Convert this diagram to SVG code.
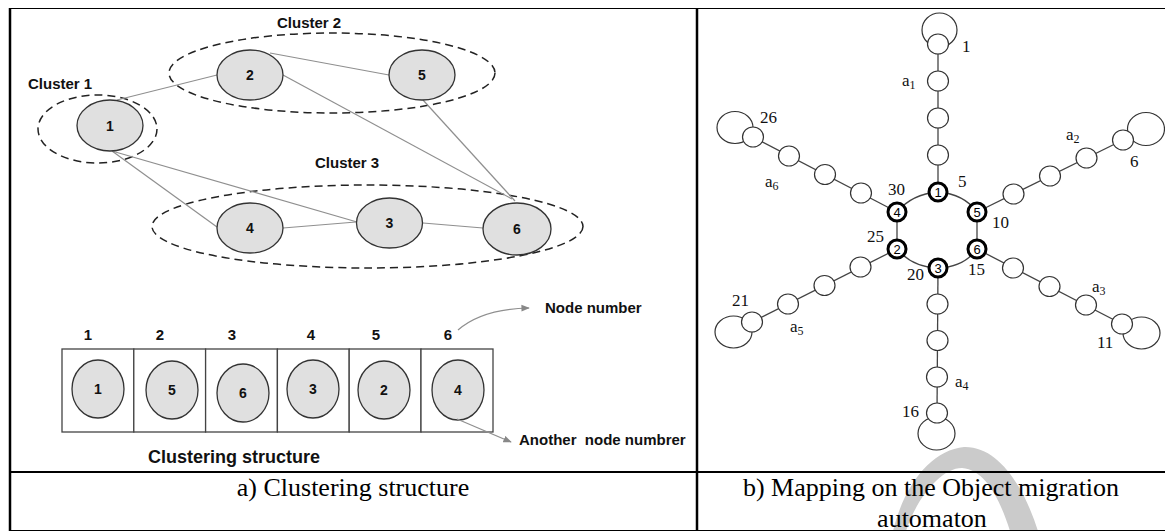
<svg xmlns="http://www.w3.org/2000/svg" width="1165" height="531" viewBox="0 0 1165 531">
  <style>
    .frame { stroke: #000; fill: none; }
    .cluster { fill: none; stroke: #222; stroke-width: 1.5; stroke-dasharray: 8 5; }
    .node { fill: #e0e0e0; stroke: #333; stroke-width: 1.3; }
    .edge { stroke: #8f8f8f; stroke-width: 1.2; fill: none; }
    .cell { fill: #fff; stroke: #444; stroke-width: 1.3; }
    .lbl { font-family: "Liberation Sans", Arial, sans-serif; font-weight: bold; fill: #111; }
    .num { font-family: "Liberation Sans", Arial, sans-serif; font-weight: bold; font-size: 14px; fill: #111; text-anchor: middle; }
    .cap { font-family: "Liberation Serif", "Times New Roman", serif; font-size: 26px; fill: #000; text-anchor: middle; }
    .link { stroke: #444; stroke-width: 1.3; fill: none; }
    .state { fill: #fff; stroke: #333; stroke-width: 1.2; }
    .loop { fill: none; stroke: #333; stroke-width: 1.2; }
    .hub { fill: #fff; stroke: #000; stroke-width: 3; }
    .hubnum { font-family: "Liberation Sans", Arial, sans-serif; font-size: 13px; fill: #000; text-anchor: middle; }
    .tl { font-family: "Liberation Serif", "Times New Roman", serif; font-size: 17px; fill: #111; }
  </style>
  <defs>
    <marker id="arrow" viewBox="0 0 10 10" refX="9" refY="5" markerWidth="7" markerHeight="7" orient="auto">
      <path d="M0 1 L10 5 L0 9 z" fill="#888"/>
    </marker>
  </defs>

  <rect width="1165" height="531" fill="#fff"/>

  <!-- faint background mark -->
  <path d="M893 531 C905 482 933 450 964 447 C1000 446 1025 490 1038 531 L1010 531 C1000 500 986 470 962 468 C940 468 916 500 906 531 Z" fill="#cbcbcb"/>

  <!-- table frame -->
  <g id="table">
    <line class="frame" x1="10" y1="8.5" x2="1165" y2="8.5" stroke-width="1.2"/>
    <line class="frame" x1="10" y1="8" x2="10" y2="531" stroke-width="2.5"/>
    <line class="frame" x1="697" y1="8" x2="697" y2="531" stroke-width="2.5"/>
    <line class="frame" x1="10" y1="472" x2="1165" y2="472" stroke-width="2"/>
    <line class="frame" x1="10" y1="530.5" x2="1165" y2="530.5" stroke-width="1"/>
  </g>

  <!-- a) cluster graph -->
  <g id="clusters">
    <g id="cluster1">
      <ellipse class="cluster" cx="97.5" cy="129" rx="59.5" ry="34"/>
      <text class="lbl" x="28" y="89" font-size="15">Cluster 1</text>
    </g>
    <g id="cluster2">
      <ellipse class="cluster" cx="332" cy="73" rx="163" ry="40"/>
      <text class="lbl" x="277" y="28" font-size="15">Cluster 2</text>
    </g>
    <g id="cluster3">
      <ellipse class="cluster" cx="367.5" cy="226.5" rx="215.5" ry="41.5"/>
      <text class="lbl" x="315" y="168" font-size="15">Cluster 3</text>
    </g>
  </g>

  <g id="edges">
    <line class="edge" x1="117" y1="100" x2="217" y2="75"/>
    <line class="edge" x1="270" y1="53" x2="389" y2="75"/>
    <line class="edge" x1="283" y1="75" x2="512" y2="199"/>
    <line class="edge" x1="423" y1="100" x2="515" y2="201"/>
    <line class="edge" x1="112" y1="151" x2="217" y2="227"/>
    <line class="edge" x1="112" y1="151" x2="357" y2="222"/>
    <line class="edge" x1="283" y1="228" x2="356" y2="222"/>
    <line class="edge" x1="423" y1="223" x2="483" y2="228"/>
  </g>

  <g id="node1"><ellipse class="node" cx="110" cy="125.5" rx="33" ry="25.5"/><text class="num" x="110" y="130.5">1</text></g>
  <g id="node2"><ellipse class="node" cx="250" cy="75" rx="33" ry="25"/><text class="num" x="250" y="80">2</text></g>
  <g id="node5"><ellipse class="node" cx="422" cy="75" rx="33" ry="25"/><text class="num" x="422" y="80">5</text></g>
  <g id="node4"><ellipse class="node" cx="250" cy="228" rx="33" ry="25"/><text class="num" x="250" y="233">4</text></g>
  <g id="node3"><ellipse class="node" cx="389.5" cy="223" rx="33" ry="25"/><text class="num" x="389.5" y="228">3</text></g>
  <g id="node6"><ellipse class="node" cx="517" cy="229" rx="34" ry="26"/><text class="num" x="517" y="234">6</text></g>

  <!-- clustering structure array -->
  <g id="array">
    <g class="lbl" font-size="15" text-anchor="middle">
      <text x="88" y="340">1</text>
      <text x="160" y="340">2</text>
      <text x="232" y="340">3</text>
      <text x="311" y="340">4</text>
      <text x="376" y="340">5</text>
      <text x="448" y="340">6</text>
    </g>
    <g id="slot1"><rect class="cell" x="62" y="349" width="71.8" height="83"/><ellipse class="node" cx="98" cy="389" rx="26" ry="29"/><text class="num" x="98" y="394">1</text></g>
    <g id="slot2"><rect class="cell" x="133.8" y="349" width="71.8" height="83"/><ellipse class="node" cx="172" cy="390" rx="26" ry="29"/><text class="num" x="172" y="395">5</text></g>
    <g id="slot3"><rect class="cell" x="205.6" y="349" width="71.8" height="83"/><ellipse class="node" cx="243" cy="393" rx="26" ry="29"/><text class="num" x="243" y="398">6</text></g>
    <g id="slot4"><rect class="cell" x="277.4" y="349" width="71.8" height="83"/><ellipse class="node" cx="313" cy="389" rx="26" ry="29"/><text class="num" x="313" y="394">3</text></g>
    <g id="slot5"><rect class="cell" x="349.2" y="349" width="71.8" height="83"/><ellipse class="node" cx="384" cy="390" rx="26" ry="29"/><text class="num" x="384" y="395">2</text></g>
    <g id="slot6"><rect class="cell" x="421" y="349" width="72" height="83"/><ellipse class="node" cx="458" cy="390" rx="26" ry="30"/><text class="num" x="458" y="395">4</text></g>
  </g>

  <g id="annotations">
    <path class="edge" d="M458 330 Q482 309 529 308" marker-end="url(#arrow)"/>
    <text class="lbl" x="545" y="313" font-size="15">Node number</text>
    <path class="edge" d="M457 419 L511 442" marker-end="url(#arrow)"/>
    <text class="lbl" x="519" y="445" font-size="15" style="white-space:pre">Another  node numbrer</text>
    <text class="lbl" x="148" y="463" font-size="18">Clustering structure</text>
  </g>

  <!-- b) object migration automaton -->
  <g id="automaton-links">
    <line class="link" x1="938" y1="192" x2="938" y2="44"/>
    <line class="link" x1="977" y1="212" x2="1123" y2="140"/>
    <line class="link" x1="897" y1="212" x2="753" y2="137"/>
    <line class="link" x1="938" y1="268" x2="937" y2="413"/>
    <line class="link" x1="977" y1="249" x2="1122" y2="324"/>
    <line class="link" x1="897" y1="249" x2="752" y2="322"/>
    <path class="link" d="M938 192 Q912 194 897 212"/>
    <path class="link" d="M938 192 Q964 194 977 212"/>
    <path class="link" d="M897 249 Q912 267 938 268"/>
    <path class="link" d="M977 249 Q964 267 938 268"/>
    <line class="link" x1="897" y1="212" x2="897" y2="249"/>
    <line class="link" x1="977" y1="212" x2="977" y2="249"/>
  </g>

  <g id="loops">
    <ellipse class="loop" cx="939.5" cy="30" rx="17.5" ry="17"/>
    <ellipse class="loop" cx="1146" cy="129" rx="18.5" ry="16.5"/>
    <ellipse class="loop" cx="735" cy="127.5" rx="18" ry="16"/>
    <ellipse class="loop" cx="936.5" cy="433.5" rx="18.5" ry="16.5"/>
    <ellipse class="loop" cx="1141.5" cy="333" rx="18.5" ry="16"/>
    <ellipse class="loop" cx="733.5" cy="332" rx="18.5" ry="16"/>
  </g>

  <g id="branch-a1">
    <ellipse class="state" cx="938" cy="155" rx="10.5" ry="10"/>
    <ellipse class="state" cx="938" cy="118" rx="10.5" ry="10"/>
    <ellipse class="state" cx="938" cy="81" rx="10.5" ry="10"/>
    <ellipse class="state" cx="938" cy="44" rx="10.5" ry="10"/>
  </g>
  <g id="branch-a2">
    <ellipse class="state" cx="1013.5" cy="194" rx="10.5" ry="10"/>
    <ellipse class="state" cx="1050" cy="176" rx="10.5" ry="10"/>
    <ellipse class="state" cx="1086.5" cy="158" rx="10.5" ry="10"/>
    <ellipse class="state" cx="1123" cy="140" rx="10.5" ry="10"/>
  </g>
  <g id="branch-a6">
    <ellipse class="state" cx="861" cy="193" rx="10.5" ry="10"/>
    <ellipse class="state" cx="825" cy="174.5" rx="10.5" ry="10"/>
    <ellipse class="state" cx="789" cy="156" rx="10.5" ry="10"/>
    <ellipse class="state" cx="753" cy="137" rx="10.5" ry="10"/>
  </g>
  <g id="branch-a4">
    <ellipse class="state" cx="937.5" cy="304" rx="10.5" ry="10"/>
    <ellipse class="state" cx="937.5" cy="340.5" rx="10.5" ry="10"/>
    <ellipse class="state" cx="937" cy="377" rx="10.5" ry="10"/>
    <ellipse class="state" cx="937" cy="413" rx="10.5" ry="10"/>
  </g>
  <g id="branch-a3">
    <ellipse class="state" cx="1013" cy="268" rx="10.5" ry="10"/>
    <ellipse class="state" cx="1049.5" cy="286.5" rx="10.5" ry="10"/>
    <ellipse class="state" cx="1086" cy="305" rx="10.5" ry="10"/>
    <ellipse class="state" cx="1122" cy="324" rx="10.5" ry="10"/>
  </g>
  <g id="branch-a5">
    <ellipse class="state" cx="860.5" cy="267" rx="10.5" ry="10"/>
    <ellipse class="state" cx="824.5" cy="285.5" rx="10.5" ry="10"/>
    <ellipse class="state" cx="788" cy="304" rx="10.5" ry="10"/>
    <ellipse class="state" cx="752" cy="322" rx="10.5" ry="10"/>
  </g>

  <g id="hub1"><circle class="hub" cx="938" cy="192" r="9"/><text class="hubnum" x="938" y="196.5">1</text></g>
  <g id="hub4"><circle class="hub" cx="897" cy="212" r="9"/><text class="hubnum" x="897" y="216.5">4</text></g>
  <g id="hub5"><circle class="hub" cx="977" cy="212" r="9"/><text class="hubnum" x="977" y="216.5">5</text></g>
  <g id="hub2"><circle class="hub" cx="897" cy="249" r="9"/><text class="hubnum" x="897" y="253.5">2</text></g>
  <g id="hub6"><circle class="hub" cx="977" cy="249" r="9"/><text class="hubnum" x="977" y="253.5">6</text></g>
  <g id="hub3"><circle class="hub" cx="938" cy="268" r="9"/><text class="hubnum" x="938" y="272.5">3</text></g>

  <g id="automaton-labels" class="tl">
    <text x="962" y="52">1</text>
    <text x="902" y="86">a<tspan font-size="12" dy="3">1</tspan></text>
    <text x="760" y="123">26</text>
    <text x="1066" y="140">a<tspan font-size="12" dy="3">2</tspan></text>
    <text x="1130" y="167">6</text>
    <text x="765" y="187">a<tspan font-size="12" dy="3">6</tspan></text>
    <text x="888" y="195">30</text>
    <text x="958" y="187">5</text>
    <text x="992" y="228">10</text>
    <text x="867" y="242">25</text>
    <text x="907" y="280">20</text>
    <text x="968" y="275">15</text>
    <text x="732" y="306">21</text>
    <text x="790" y="332">a<tspan font-size="12" dy="3">5</tspan></text>
    <text x="1092" y="292">a<tspan font-size="12" dy="3">3</tspan></text>
    <text x="1097" y="348">11</text>
    <text x="955" y="387">a<tspan font-size="12" dy="3">4</tspan></text>
    <text x="902" y="417">16</text>
  </g>

  <!-- captions -->
  <g id="captions">
    <text class="cap" x="353" y="496">a) Clustering structure</text>
    <text class="cap" x="931" y="496">b) Mapping on the Object migration</text>
    <text class="cap" x="932" y="527">automaton</text>
  </g>
</svg>
